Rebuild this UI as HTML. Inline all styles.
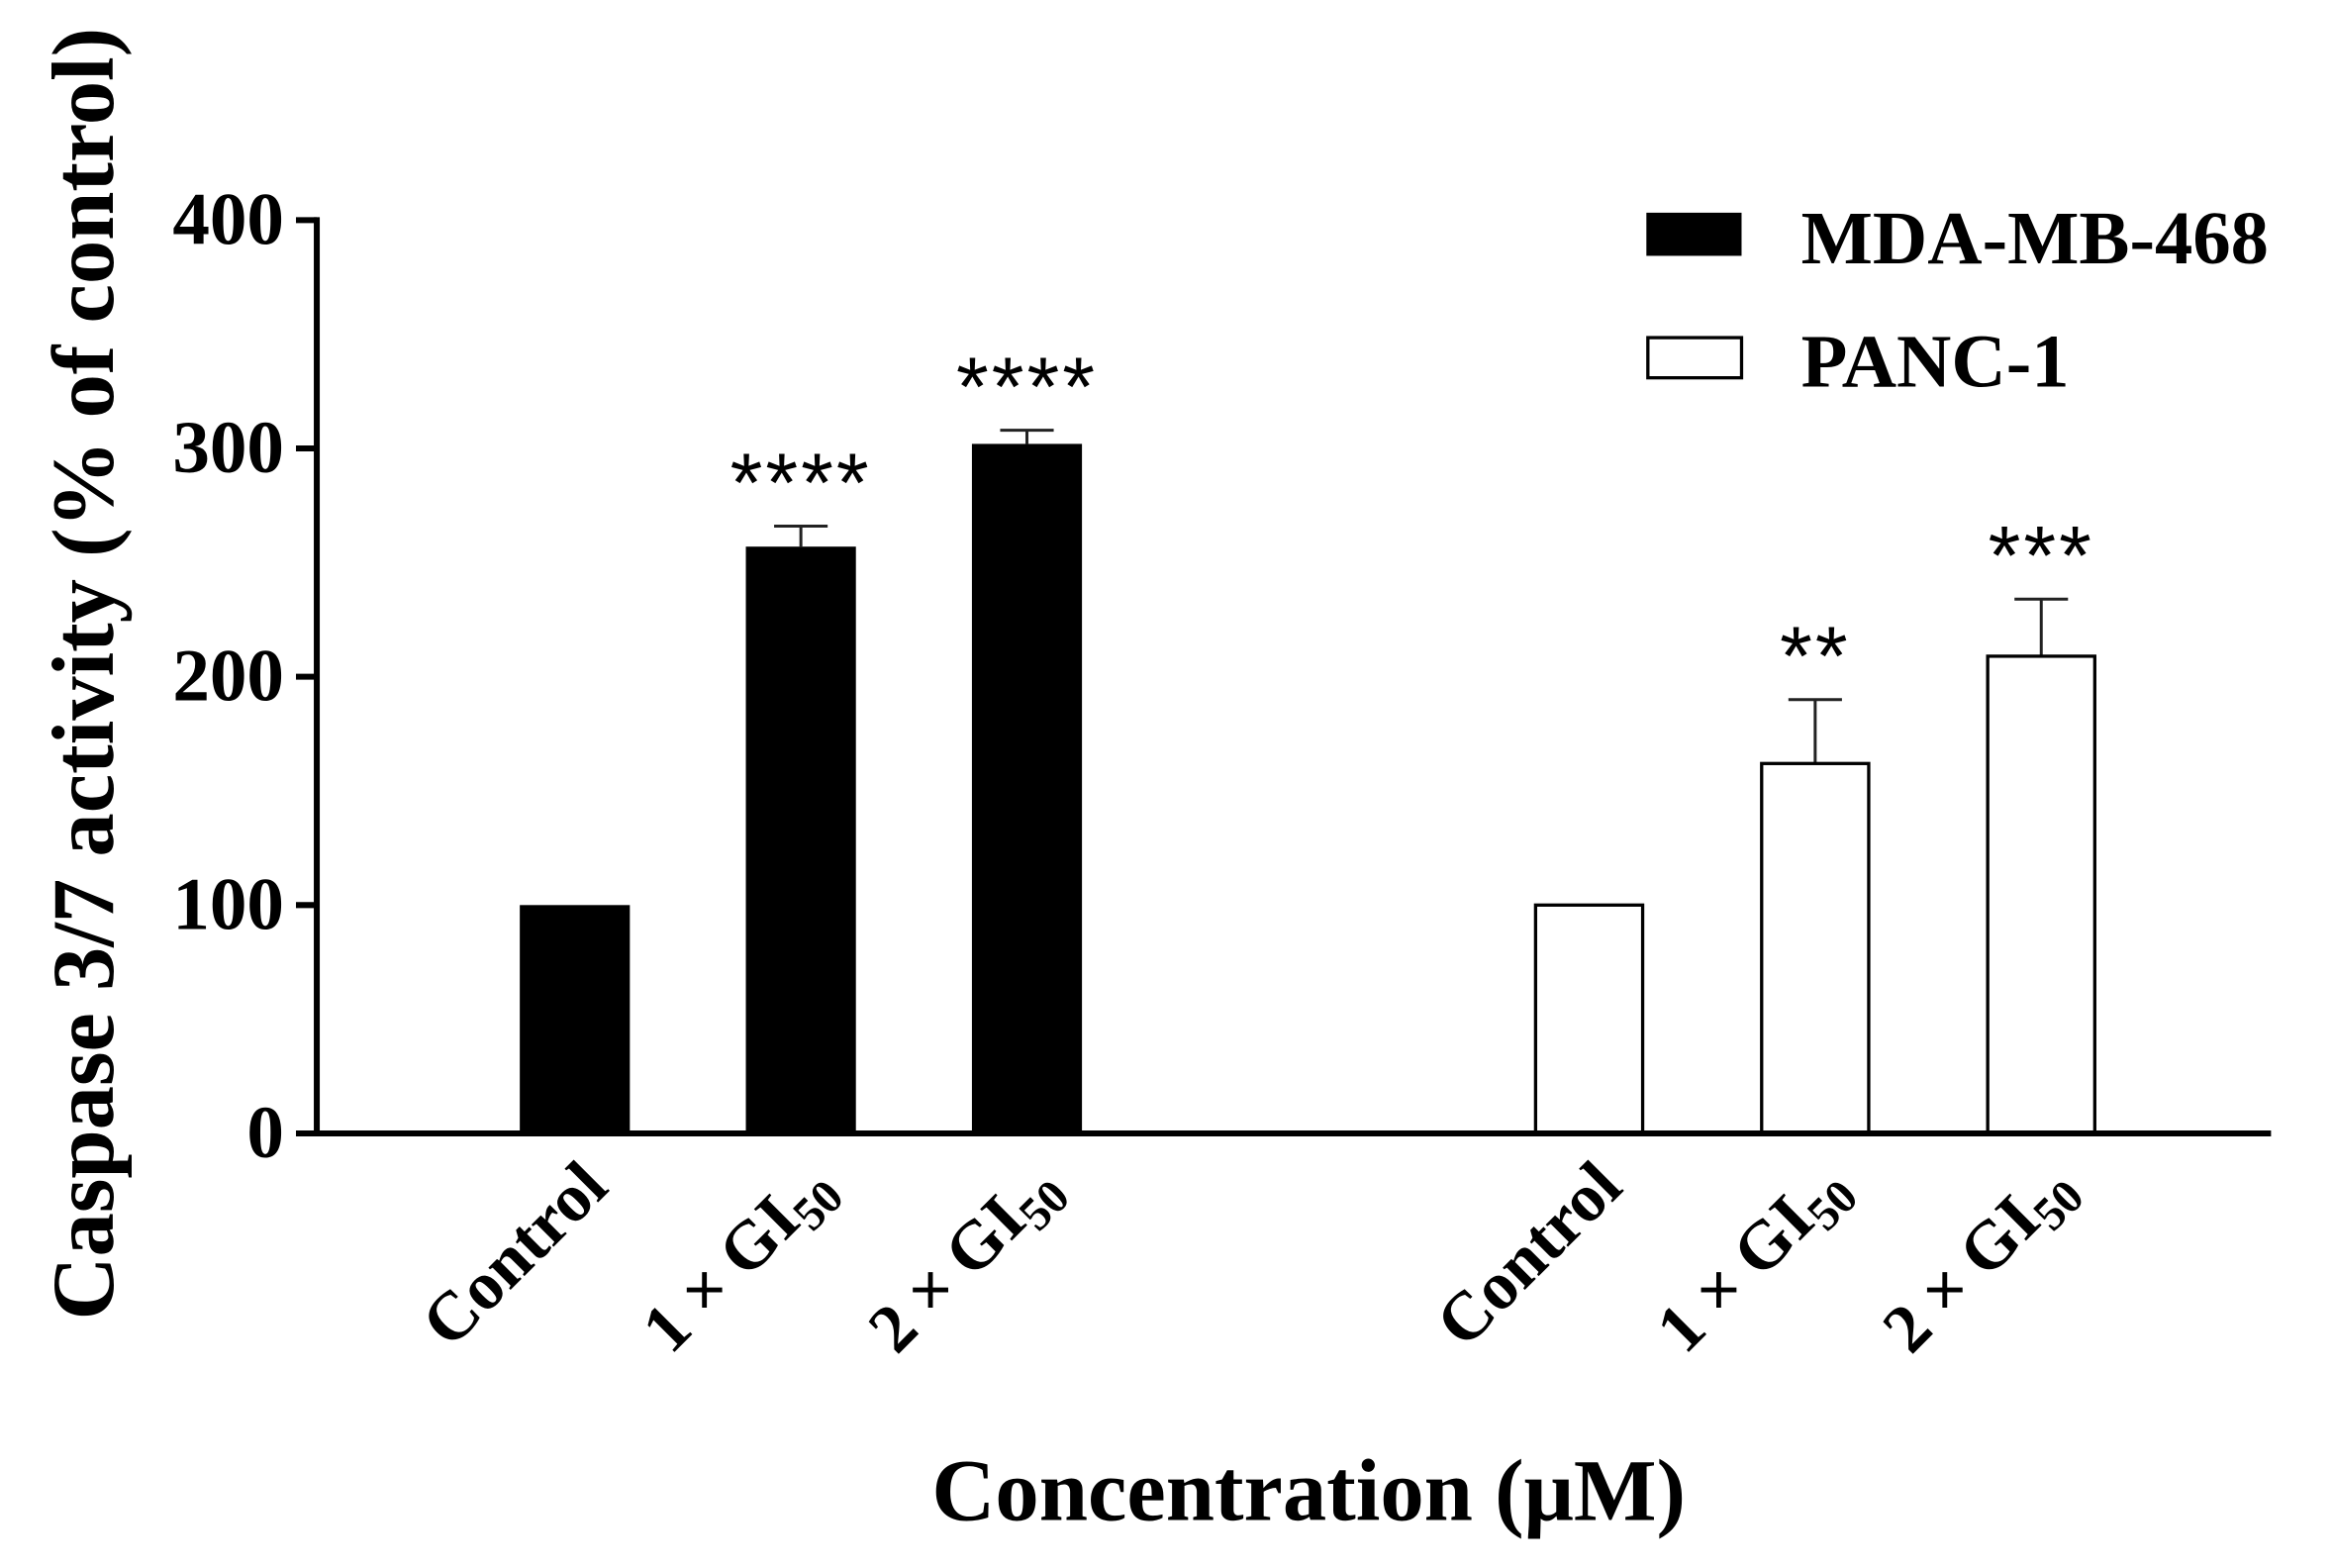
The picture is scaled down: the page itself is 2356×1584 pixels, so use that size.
<!DOCTYPE html>
<html><head><meta charset="utf-8"><style>
html,body{margin:0;padding:0;background:#fff;}
svg{display:block;font-family:"Liberation Serif",serif;font-weight:bold;}
</style></head><body>
<svg id="chart" width="2356" height="1584" viewBox="0 0 1568 1054.2" xmlns="http://www.w3.org/2000/svg"></svg>
<script>
const categories = ["Control", "1 × GI", "2 × GI"];
const groups = ["MDA-MB-468", "PANC-1"];
const mdaValues = [100, 257, 302];
const mdaErrors = [0, 9, 6];
const mdaStars = ["", "****", "****"];
const pancValues = [100, 162, 209];
const pancErrors = [0, 28, 25];
const pancStars = ["", "**", "***"];
const yTicks = [0, 100, 200, 300, 400];

const NS = "http://www.w3.org/2000/svg";
const svg = document.getElementById('chart');
const y0 = 762, y400 = 148, axisX = 213;
function yScale(v){ return y0 - (v/400)*(y0-y400); }
const groupStart = [386.5, 1068.5], step = 152, barW = 74;
function xScale(g, i){ return groupStart[g] + i*step; }
function mk(tag, attrs, parent){
  const e = document.createElementNS(NS, tag);
  for (const k in attrs) e.setAttribute(k, attrs[k]);
  (parent||svg).appendChild(e); return e;
}

const series = [[mdaValues, mdaErrors, mdaStars], [pancValues, pancErrors, pancStars]];
series.forEach((s, g) => {
  s[0].forEach((v, i) => {
    const cx = xScale(g, i);
    const top = yScale(v);
    if (s[1][i] > 0) {
      const et = yScale(v + s[1][i]);
      const l = mk('line', {x1:cx, x2:cx, y1:top, y2:et, stroke:'#222', 'stroke-width':2});
      
      
      const c = mk('line', {x1:cx-18, x2:cx+18, y1:et, y2:et, stroke:'#222', 'stroke-width':2});
      
      
    }
    const r = mk('rect', g===0 ? {x:cx-barW/2, y:top, width:barW, height:y0-top, fill:'#000'}
                               : {x:cx-barW/2+1, y:top, width:barW-2, height:y0-top, fill:'#fff', stroke:'#000', 'stroke-width':2.2});
    
    
    if (s[2][i]) {
      const et = yScale(v + s[1][i]);
      const t = mk('text', {x:cx, y:et-10, 'text-anchor':'middle', 'font-size':56, 'font-weight':'normal', 'font-family':'Liberation Sans, sans-serif', 'letter-spacing':2});
      t.textContent = s[2][i];
      
      
    }
    const lx = cx + 24, ly = 800;
    const t = mk('text', {x:0, y:0, 'text-anchor':'end', 'font-size':46, transform:`translate(${lx},${ly}) rotate(-45)`});
    
    
    t.textContent = categories[i];
    if (i > 0) {
      const sub = document.createElementNS(NS, 'tspan');
      sub.setAttribute('font-size', 32);
      sub.setAttribute('dy', 9);
      sub.textContent = '50';
      t.appendChild(sub);
    }
  });
});

const ya = mk('line', {x1:axisX, x2:axisX, y1:y400-2, y2:y0+2, stroke:'#000', 'stroke-width':4});


const xa = mk('line', {x1:200, x2:1527, y1:y0, y2:y0, stroke:'#000', 'stroke-width':4});


yTicks.forEach(v => {
  const ty = yScale(v);
  const tk = mk('line', {x1:199, x2:axisX, y1:ty, y2:ty, stroke:'#000', 'stroke-width':4});
  
  
  const t = mk('text', {x:191, y:ty+16, 'text-anchor':'end', 'font-size':50});
  t.textContent = v;
  
  
});

const yt = mk('text', {x:0, y:0, 'text-anchor':'middle', 'font-size':59, transform:'translate(76,453) rotate(-90)'});
yt.textContent = 'Caspase 3/7 activity (% of control)';


const xt = mk('text', {x:880, y:1022, 'text-anchor':'middle', 'font-size':59});
xt.textContent = 'Concentration (μM)';



groups.forEach((name, g) => {
  const ly = 143 + g*83;
  const r = mk('rect', g===0 ? {x:1107, y:ly, width:64, height:29, fill:'#000'}
                             : {x:1108, y:ly+1, width:63, height:27, fill:'#fff', stroke:'#000', 'stroke-width':2.2});
  
  
  const t = mk('text', {x:1211, y:ly+34, 'font-size':51});
  t.textContent = name;
  
  
});
</script>
</body></html>
